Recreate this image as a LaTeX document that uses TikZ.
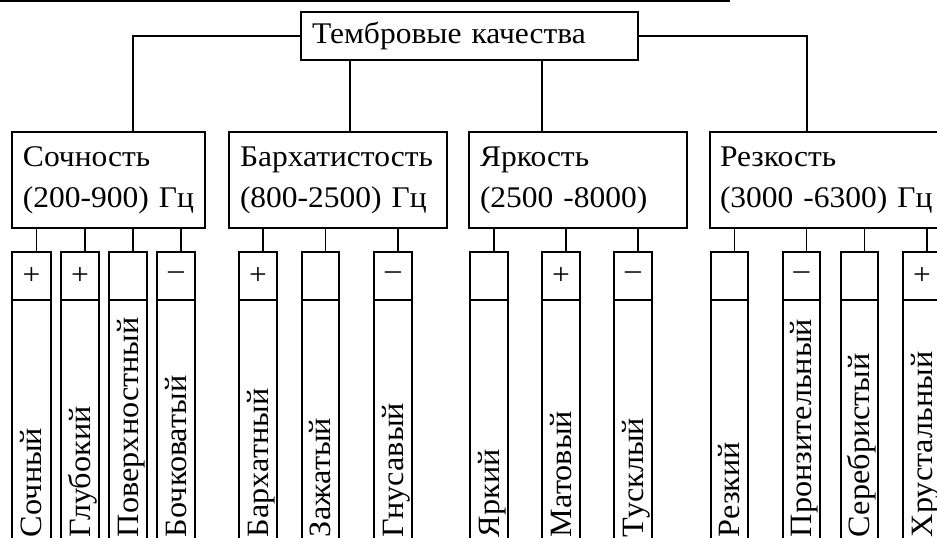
\documentclass[tikz,border=0pt]{standalone}
\usepackage{fontspec}
\newfontfamily\tfont[FakeStretch=1.05]{Liberation Serif}
\newfontfamily\vfont[FakeStretch=1.04]{Liberation Serif}
\begin{document}
\begin{tikzpicture}[x=1pt,y=-1pt,
  box/.style={draw, line width=1.6pt, inner sep=0pt, align=left, line join=miter,
    font=\tfont\fontsize{30pt}{41pt}\selectfont},
  sign/.style={draw, line width=1.6pt, inner sep=0pt, minimum height=48pt,
    font=\tfont\fontsize{30pt}{41pt}\selectfont},
  tall/.style={draw, line width=1.6pt, inner sep=0pt, rotate=90, minimum width=245pt,
    text width=229pt, align=left, text height=20pt, text depth=0pt,
    font=\vfont\fontsize{31pt}{41pt}\selectfont},
  conn/.style={line width=1.6pt, line join=miter}
]
\useasboundingbox (0,0) rectangle (937,538);
\clip (0,0) rectangle (937,538);
% header rule
\coordinate (r1) at (0,0.8);
\coordinate (r2) at (730,0.8);
\draw[line width=1.6pt] (r1) -- (r2);
% top node
\node[box, minimum width=337pt, minimum height=48pt, text width=315pt] (top) at (469.5,36) {Тембровые качества};
% level 2
\node[box, minimum width=193pt, minimum height=96pt, text width=171pt] (s1) at (108.5,180) {\mbox{Сочность}\\\mbox{(200-900) Гц}};
\node[box, minimum width=218pt, minimum height=96pt, text width=196pt] (s2) at (338,180) {\mbox{Бархатистость}\\\mbox{(800-2500) Гц}};
\node[box, minimum width=218pt, minimum height=96pt, text width=196pt] (s3) at (578,180) {\mbox{Яркость}\\\mbox{(2500 -8000)}};
\node[box, minimum width=240pt, minimum height=96pt, text width=220pt] (s4) at (830,180) {\mbox{Резкость}\\\mbox{(3000 -6300) Гц}};
% connectors level 1 -> 2
\draw[conn] (top.west) -| ([xshift=24.5pt]s1.north);
\draw[conn] ([xshift=12pt]s2.north) -- ([xshift=12pt]s2.north |- top.south);
\draw[conn] ([xshift=-36pt]s3.north) -- ([xshift=-36pt]s3.north |- top.south);
\draw[conn] (top.east) -| ([xshift=-23pt]s4.north);
% level 3
\foreach \n/\cx/\w/\sg/\txt/\p in {
  a1/31.5/39/+/Сочный/s1,
  a2/80/38/+/Глубокий/s1,
  a3/128/38/{}/Поверхностный/s1,
  a4/176/38/–/Бочковатый/s1,
  b1/258/38/+/Бархатный/s2,
  b2/320.5/37/{}/Зажатый/s2,
  b3/393/38/–/Гнусавый/s2,
  c1/489/38/{}/Яркий/s3,
  c2/561/38/+/Матовый/s3,
  c3/633/38/–/Тусклый/s3,
  d1/729.5/37/{}/Резкий/s4,
  d2/801.5/37/–/Пронзительный/s4,
  d3/859.5/37/{}/Серебристый/s4,
  d4/922/38/+/Хрустальный/s4}
{
  \node[sign, minimum width=\w pt] (sg\n) at (\cx,276) {\sg};
  \node[tall, minimum height=\w pt] (tl\n) at (\cx,422.5) {\txt};
  \draw[conn] ([xshift=5pt]sg\n.north) -- ([xshift=5pt]sg\n.north |- \p.south);
}
\end{tikzpicture}
\end{document}
